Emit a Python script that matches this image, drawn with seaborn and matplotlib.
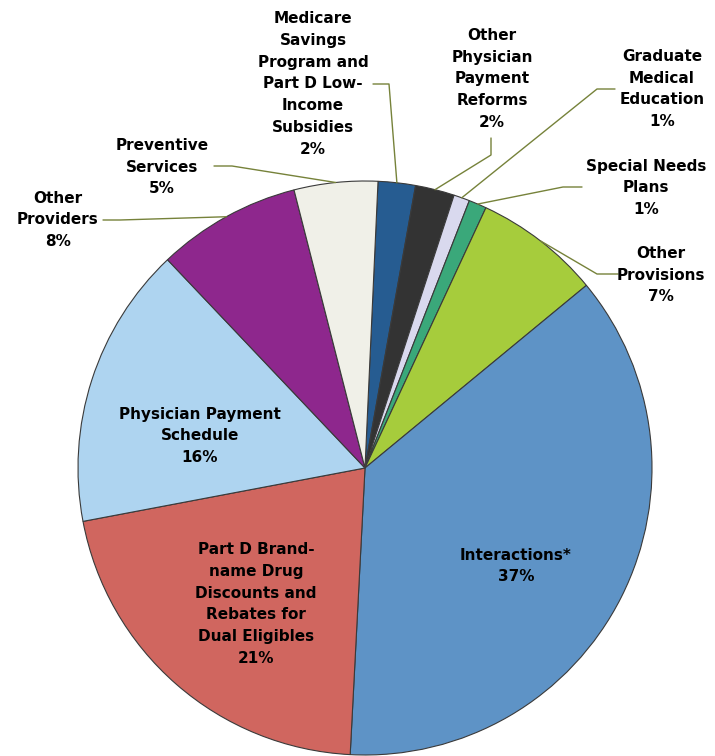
import numpy as np
import seaborn as sns
import matplotlib.pyplot as plt

# shares in percent, clockwise starting just right of 12 o'clock
categories = [
    "Medicare\nSavings\nProgram and\nPart D Low-\nIncome\nSubsidies",
    "Other\nPhysician\nPayment\nReforms",
    "Graduate\nMedical\nEducation",
    "Special Needs\nPlans",
    "Other\nProvisions",
    "Interactions*",
    "Part D Brand-\nname Drug\nDiscounts and\nRebates for\nDual Eligibles",
    "Physician Payment\nSchedule",
    "Other\nProviders",
    "Preventive\nServices",
]
shares = [2.1, 2.2, 0.9, 1.0, 7.1, 36.8, 21.2, 15.9, 8.1, 4.7]
colors = ["#265C91", "#333333", "#D9D9EE", "#3AA87A", "#A6CC3C",
          "#5E93C6", "#D0665F", "#AED4F0", "#8E278D", "#F0F0E8"]

sns.set_theme(style="white")
plt.rcParams['font.family'] = ['DejaVu Sans']

W, H = 715, 756
fig = plt.figure(figsize=(W / 100, H / 100), dpi=100)
ax = fig.add_axes([0, 0, 1, 1])
ax.set_aspect('equal')
ax.axis('off')

cx, cy, R = 365, H - 468, 287
wedges, _ = ax.pie(shares, colors=colors, startangle=87.4, counterclock=False,
                   center=(cx, cy), radius=R,
                   wedgeprops=dict(edgecolor="#3a3a3a", linewidth=0.8))
ax.set_xlim(0, W)
ax.set_ylim(0, H)

# label layout: text centre (pixels from top), leader elbow points
layout = [
    (313, 84, [(373, 84), (389, 84)]),
    (492, 79, [(491, 138), (491, 155)]),
    (662, 89, [(615, 89), (597, 89)]),
    (646, 188, [(582, 187), (563, 187)]),
    (661, 275, [(618, 274), (597, 274)]),
    (516, 566, None),
    (256, 604, None),
    (200, 436, None),
    (58, 220, [(103, 220), (120, 220)]),
    (162, 167, [(214, 166), (232, 166)]),
]

lead = "#76823a"
for w, cat, val, (tx, ty, elbow) in zip(wedges, categories, shares, layout):
    label = f"{cat}\n{round(val)}%"
    ax.text(tx, H - ty, label, ha="center", va="center", fontsize=11,
            fontweight="bold", color="black", linespacing=1.56)
    if elbow is not None:
        mid = np.deg2rad((w.theta1 + w.theta2) / 2)
        px, py = cx + R * np.cos(mid), cy + R * np.sin(mid)
        xs = [p[0] for p in elbow] + [px]
        ys = [H - p[1] for p in elbow] + [py]
        ax.plot(xs, ys, color=lead, linewidth=1)

fig.savefig("out.png", dpi=100)
